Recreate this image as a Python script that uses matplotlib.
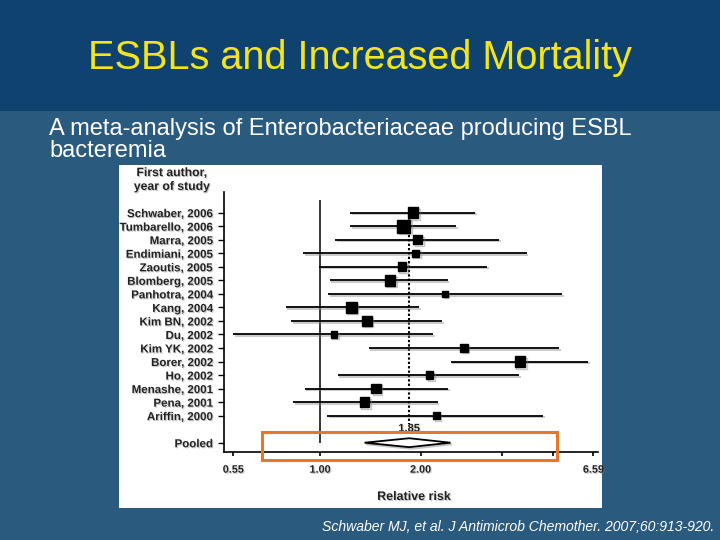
import matplotlib
matplotlib.use('Agg')
import matplotlib.pyplot as plt
import matplotlib.patheffects as pe
from matplotlib.patches import Rectangle

plt.rcParams['font.family'] = ['Liberation Sans', 'DejaVu Sans']

# forest plot data (relative risk, 95% CI)
studies = ['Schwaber, 2006', 'Tumbarello, 2006', 'Marra, 2005', 'Endimiani, 2005',
           'Zaoutis, 2005', 'Blomberg, 2005', 'Panhotra, 2004', 'Kang, 2004',
           'Kim BN, 2002', 'Du, 2002', 'Kim YK, 2002', 'Borer, 2002', 'Ho, 2002',
           'Menashe, 2001', 'Pena, 2001', 'Ariffin, 2000']
rr = [1.90, 1.78, 1.96, 1.93, 1.76, 1.62, 2.37, 1.24, 1.38, 1.10, 2.70, 3.97, 2.13, 1.47, 1.36, 2.23]
ci_low = [1.23, 1.23, 1.11, 0.89, 0.99, 1.07, 1.06, 0.79, 0.82, 0.55, 1.40, 2.46, 1.13, 0.90, 0.83, 1.05]
ci_high = [2.91, 2.56, 3.44, 4.16, 3.16, 2.41, 5.30, 1.98, 2.32, 2.18, 5.20, 6.36, 3.95, 2.42, 2.25, 4.67]
weights = [10, 12, 8, 6.5, 8, 10, 5, 10, 9, 6, 7, 10, 7, 9, 9, 6]  # box size ~ study weight

pooled_rr = 1.85
pooled_low = 1.36
pooled_high = 2.46

xticks = [0.55, 1.00, 2.00, 3.5, 5.0, 6.59]
xticklabels = ['0.55', '1.00', '2.00', '', '', '6.59']

header_col = '#0f426f'
band_col = '#2a5a7e'
shadow = [pe.SimpleLineShadow(offset=(1.2, -1.2), shadow_color='gray', alpha=0.45), pe.Normal()]
tshadow = [pe.withSimplePatchShadow(offset=(0.8, -0.8), shadow_rgbFace='gray', alpha=0.4)]

fig = plt.figure(figsize=(7.2, 5.4), dpi=100)
fig.patch.set_facecolor(band_col)
fig.patches.append(Rectangle((0, 1 - 111 / 540), 1, 111 / 540, transform=fig.transFigure,
                             facecolor=header_col, edgecolor='none', zorder=-2))
fig.patches.append(Rectangle((119 / 720, 1 - 508 / 540), 483 / 720, 343 / 540,
                             transform=fig.transFigure, facecolor='white',
                             edgecolor='none', zorder=-1))

fig.text(0.5, 1 - 58 / 540, 'ESBLs and Increased Mortality', color='#f2e51f',
         fontsize=28.5, ha='center', va='center')
fig.text(49 / 720, 1 - 140 / 540, 'A meta-analysis of Enterobacteriaceae producing ESBL\nbacteremia',
         color='white', fontsize=17, ha='left', va='center', linespacing=1.0)
fig.text(714 / 720, 1 - 527 / 540, 'Schwaber MJ, et al. J Antimicrob Chemother. 2007;60:913-920.',
         color='white', fontsize=10.1, style='italic', ha='right', va='center')

ax = fig.add_axes([224 / 720, 1 - 451.5 / 540, 374 / 720, 259.8 / 540])
ax.set_facecolor('none')
ax.set_xscale('log')
ax.set_xlim(0.516, 6.80)
ax.set_ylim(17.65, -1.55)

rows = list(range(len(studies)))
pooled_row = len(studies) + 1

ax.vlines(1.0, -0.94, 17.0, color='black', lw=1.1, zorder=2)
ax.vlines(pooled_rr, 0, 15.6, color='black', lw=1.5, linestyles=(0, (1.1, 1.0)), zorder=2)

for i in rows:
    ax.plot([ci_low[i], ci_high[i]], [i, i], color='black', lw=1.3,
            solid_capstyle='butt', zorder=3, path_effects=shadow)
    ax.plot(rr[i], i, marker='s', ms=weights[i] * 0.78, color='black',
            zorder=4, path_effects=shadow)

h = 0.33
ax.fill([pooled_low, pooled_rr, pooled_high, pooled_rr],
        [pooled_row, pooled_row - h, pooled_row, pooled_row + h],
        facecolor='white', edgecolor='black', lw=1.3, zorder=4, path_effects=shadow)
ax.text(pooled_rr, 15.95, '%.2f' % pooled_rr, ha='center', va='center', fontsize=8,
        fontweight='bold', color='#222222', path_effects=tshadow)

ax.set_yticks(rows + [pooled_row])
ax.set_yticklabels(studies + ['Pooled'], fontsize=8.3, fontweight='bold', color='#222222')
ax.set_xticks(xticks)
ax.set_xticklabels(xticklabels, fontsize=7.8, fontweight='bold', color='#222222')
ax.minorticks_off()
ax.tick_params(axis='y', length=4.3, width=1, pad=3.6)
ax.tick_params(axis='x', length=3, width=1.2, pad=6.5)
for lab in ax.get_xticklabels() + ax.get_yticklabels():
    lab.set_path_effects(tshadow)
for s in ['top', 'right']:
    ax.spines[s].set_visible(False)
for s in ['left', 'bottom']:
    ax.spines[s].set_linewidth(1.2)

fig.text(172 / 720, 1 - 180 / 540, 'First author,\nyear of study', ha='center', va='center',
         fontsize=8.8, fontweight='bold', color='#222222', linespacing=1.2, path_effects=tshadow)
fig.text(414 / 720, 1 - 497 / 540, 'Relative risk', ha='center', va='center',
         fontsize=9, fontweight='bold', color='#222222', path_effects=tshadow)

# highlight box drawn on the slide
fig.patches.append(Rectangle((262 / 720, 1 - 460 / 540), 295 / 720, 28 / 540,
                             transform=fig.transFigure, facecolor='none',
                             edgecolor='#e8772a', lw=2.2, zorder=5))

fig.savefig('out.png', dpi=100, facecolor=fig.get_facecolor())
